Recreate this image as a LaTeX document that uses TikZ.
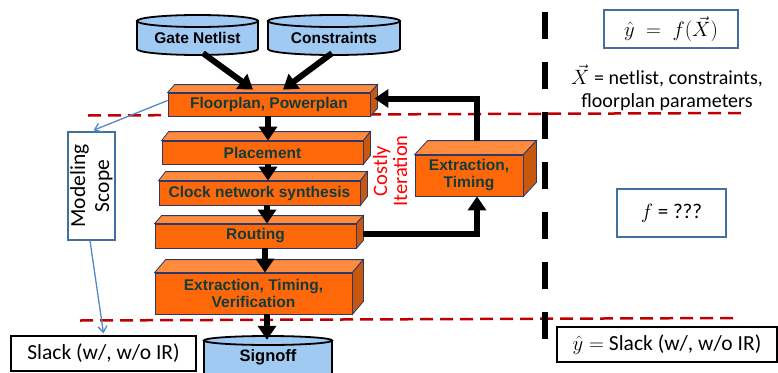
\documentclass[tikz,border=0pt]{standalone}
\usepackage{fontspec}
\setmainfont{Carlito}
\newfontfamily\labelfont{Liberation Sans}
\usetikzlibrary{arrows.meta,calc}

\definecolor{slabfront}{RGB}{255,104,8}
\definecolor{slablight}{RGB}{255,140,62}
\definecolor{slabdark}{RGB}{200,88,14}
\definecolor{slabedge}{RGB}{44,56,104}
\definecolor{labelink}{RGB}{18,60,60}
\definecolor{drumblue}{RGB}{160,202,242}
\definecolor{boxblue}{RGB}{65,113,156}
\definecolor{scopeblue}{RGB}{86,136,200}
\definecolor{cutred}{RGB}{192,0,0}

% 3-D slab: name, centre x, centre y, width, height, depth x, depth y, label
\newcommand\slab[8]{%
  \node[slabface, minimum width=#4pt, minimum height=#5pt] (#1) at (#2,#3) {#8};
  \filldraw[slabtop] (#1.north west) -- ++(#6,-#7) -- ($(#1.north east)+(#6,-#7)$) -- (#1.north east) -- cycle;
  \filldraw[slabside] (#1.north east) -- ++(#6,-#7) -- ($(#1.south east)+(#6,-#7)$) -- (#1.south east) -- cycle;
}
% drum (database): name, centre x, top y, bottom y, half width, end radius, label y, label box height, label
\newcommand\drum[9]{%
  \filldraw[drumbody] (#2-#5,#3) -- (#2-#5,#4) arc[start angle=180,end angle=0,x radius=#5,y radius=#6] -- (#2+#5,#3) -- cycle;
  \filldraw[drumbody] (#2,#3) ellipse[x radius=#5,y radius=#6];
  \node[drumlabel, minimum width=2*#5 pt, minimum height=#8pt] (#1) at (#2,#7) {#9};
}

\begin{document}
\begin{tikzpicture}[x=1pt,y=-1pt,
  slabface/.style={draw=slabedge, line width=0.8pt, fill=slabfront, inner sep=0pt,
    font=\labelfont\bfseries\fontsize{15.5}{17}\selectfont, text=labelink, align=center},
  slabtop/.style={draw=slabedge, line width=0.8pt, fill=slablight},
  slabside/.style={draw=slabedge, line width=0.8pt, fill=slabdark},
  drumbody/.style={draw=black, line width=1.8pt, fill=drumblue},
  drumlabel/.style={inner sep=0pt, font=\labelfont\bfseries\fontsize{15.5}{17}\selectfont, text=black},
  flow/.style={line width=6pt, -{Triangle[width=18pt,length=14pt]}},
  scopelink/.style={draw=scopeblue, line width=1.3pt, -{Straight Barb[length=6pt,width=9pt]}},
  cut/.style={draw=cutred, line width=2.5pt, dash pattern=on 13pt off 7pt},
  plainbox/.style={draw=black, line width=1.5pt, inner sep=0pt, font=\fontsize{21.5}{24}\selectfont},
  bluebox/.style={draw=boxblue, line width=1.5pt, inner sep=0pt, font=\fontsize{21}{24}\selectfont},
]
\useasboundingbox (0,0) rectangle (778,372);

% red cut lines
\draw[cut] (88,115.5) -- (745,113);
\draw[cut] (80,320.5) -- (733,318);

% separator
\draw[line width=6pt, dash pattern=on 27pt off 23pt] (545,12) -- (545,342);

% inputs and output
\drum{gate}{197.5}{21}{49}{60.5}{6}{38}{30}{Gate Netlist}
\drum{cons}{334}{21}{49}{66}{6}{38}{30}{Constraints}
\drum{sign}{268}{340.5}{380}{64}{4.5}{357}{34}{\fontsize{16.5}{18}\selectfont Signoff}

% flow steps
\slab{floor}{269}{104.5}{202}{23}{7}{8}{Floorplan, Powerplan}
\slab{place}{262.5}{152.5}{201}{23}{7}{9}{Placement}
\slab{clock}{259.5}{193}{201}{24}{7}{9}{Clock network synthesis}
\slab{route}{255.5}{236}{201}{24}{7}{8}{Routing}
\slab{verif}{253.5}{293.5}{197}{41}{11}{13}{Extraction, Timing,\\Verification}
\slab{ext}{469}{175.5}{108}{41}{13}{14}{Extraction,\\Timing}

% x positions of the vertical flow arrows
\coordinate (spineA) at (268,0);
\coordinate (spineB) at (267,0);
\coordinate (spineC) at (265,0);

% main flow arrows
\draw[flow] ([shift={(5.5,0)}]gate.south) -- ([shift={(-16,-3)}]floor.north);
\draw[flow] ([shift={(-2,0)}]cons.south) -- ([shift={(14,-3)}]floor.north);
\draw[flow] (floor.south -| spineA) -- (place.north -| spineA);
\draw[flow] (place.south -| spineA) -- (clock.north -| spineA);
\draw[flow] (clock.south -| spineB) -- (route.north -| spineB);
\draw[flow] (route.south -| spineC) -- (verif.north -| spineC);
\draw[flow] (verif.south -| spineB) -- (sign.north -| spineB);

% costly iteration loop
\draw[flow] ([shift={(7,-2)}]route.east) -| ([shift={(8,0)}]ext.south);
\draw[flow, line join=miter] ([shift={(8,-14)}]ext.north) |- ([shift={(4,-6)}]floor.east);
\node[rotate=90, text=red, align=center, font=\fontsize{20.5}{20}\selectfont] (costly) at (390,171) {Costly\\Iteration};

% modeling scope
\node[draw=boxblue, line width=1.5pt, minimum width=47pt, minimum height=108pt] (scope) at (91.5,186) {};
\node[rotate=90, align=center, font=\fontsize{21.5}{24}\selectfont] (scopetext) at (scope.center) {Modeling\\Scope};
\node[plainbox, minimum width=185pt, minimum height=35pt] (slack) at (103.5,353.5) {Slack (w/, w/o IR)};
\draw[scopelink] ([shift={(0,-4)}]floor.west) -- ([shift={(2,-1)}]scope.north);
\draw[scopelink] ([shift={(-1.5,0)}]scope.south) -- ([shift={(0,-2)}]slack.north);

% model description
\node[bluebox, minimum width=134pt, minimum height=38pt] (model) at (671,29) {$\hat{y}\;=\;f(\vec{X})$};
\node[align=center, font=\fontsize{20}{23}\selectfont] (inputs) at (667,88) {$\vec{X}$ = netlist, constraints,\\floorplan parameters};
\node[bluebox, minimum width=109pt, minimum height=48pt] (unknown) at (671.5,213) {$f$ = ???};
\node[plainbox, minimum width=220pt, minimum height=35pt] (target) at (667,344.5) {$\hat{y} =$ Slack (w/, w/o IR)};
\end{tikzpicture}
\end{document}
